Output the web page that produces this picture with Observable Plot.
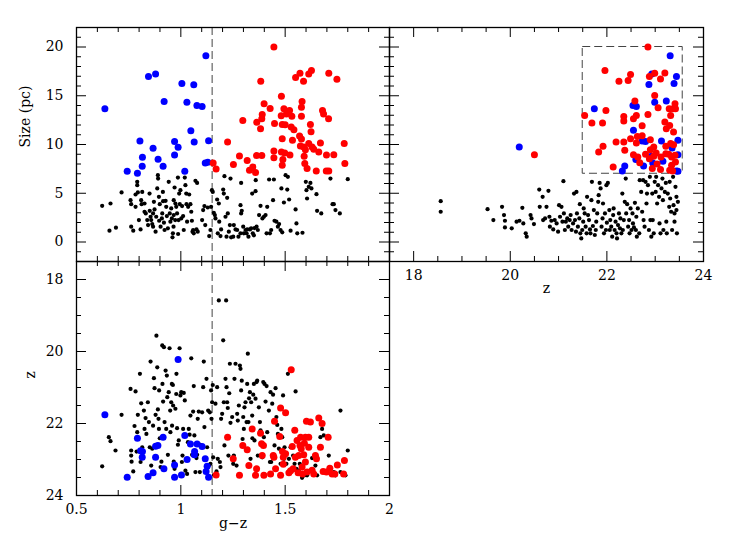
<!DOCTYPE html>
<html><head><meta charset="utf-8">
<script src="https://cdn.jsdelivr.net/npm/d3@7"></script>
<script src="https://cdn.jsdelivr.net/npm/@observablehq/plot@0.6"></script>
<style>
html,body{margin:0;padding:0;background:#fff;}
#fig{position:relative;width:747px;height:558px;overflow:hidden;background:#fff;}
#fig svg{position:absolute;left:0;top:0;background:transparent;font-family:"DejaVu Serif",serif !important;}
#fig svg text{font-family:"DejaVu Serif",serif !important;}
</style></head><body><div id="fig"></div>
<script>
// ---------- data: panel 1 (g-z vs Size) ----------
const sizeColourBlue = [[0.636,13.66],[0.743,7.26],[0.792,7.05],[0.804,10.36],[0.816,8.69],[0.815,7.77],[0.845,16.97],[0.879,17.24],[0.867,9.61],[0.891,8.48],[0.920,14.41],[0.915,7.77],[0.970,10.32],[0.970,8.93],[0.987,9.71],[1.005,16.25],[1.019,7.26],[1.029,14.34],[1.048,11.41],[1.062,16.12],[1.064,10.26],[1.077,14.0],[1.102,13.9],[1.120,19.11],[1.133,10.39],[1.117,8.11],[1.129,8.18]];
const sizeColourRed = [[1.446,20.0],[1.155,8.11],[1.169,7.5],[1.224,10.26],[1.252,7.94],[1.281,8.82],[1.297,12.47],[1.318,8.35],[1.329,7.36],[1.345,7.7],[1.358,7.12],[1.363,8.86],[1.388,8.86],[1.364,12.27],[1.383,16.49],[1.382,11.62],[1.388,12.64],[1.39,13.08],[1.399,14.17],[1.428,13.7],[1.446,9.34],[1.449,12.16],[1.446,8.65],[1.482,14.96],[1.486,10.6],[1.481,12.95],[1.482,9.23],[1.489,8.45],[1.486,7.87],[1.486,12.06],[1.494,13.66],[1.498,9.13],[1.5,12.03],[1.506,13.12],[1.521,13.49],[1.523,8.93],[1.532,12.91],[1.529,11.79],[1.542,11.52],[1.535,10.43],[1.55,16.87],[1.571,17.31],[1.588,16.49],[1.581,14.41],[1.578,13.83],[1.578,12.91],[1.569,10.87],[1.578,10.56],[1.573,9.85],[1.589,9.74],[1.591,8.79],[1.594,8.04],[1.597,9.47],[1.605,7.53],[1.613,17.24],[1.626,17.58],[1.621,12.06],[1.624,11.31],[1.613,10.09],[1.629,9.74],[1.637,9.51],[1.649,7.29],[1.661,9.23],[1.669,10.15],[1.679,13.49],[1.684,13.12],[1.698,8.93],[1.697,7.29],[1.708,12.64],[1.709,17.31],[1.709,7.29],[1.733,8.96],[1.748,16.69],[1.783,10.09],[1.786,8.04]];
const sizeColourBlack = [[0.623,3.71],[0.663,3.95],[0.658,1.16],[0.689,1.47],[0.716,5.08],[0.759,4.29],[0.762,3.88],[0.762,1.57],[0.772,1.16],[0.783,3.61],[0.783,4.87],[0.791,6.17],[0.791,5.83],[0.794,5.08],[0.799,2.25],[0.807,1.29],[0.810,4.29],[0.812,3.88],[0.815,5.14],[0.826,3.95],[0.826,3.10],[0.832,2.93],[0.839,2.25],[0.843,1.74],[0.850,4.97],[0.851,3.20],[0.855,2.59],[0.858,2.25],[0.863,1.84],[0.867,2.93],[0.867,1.57],[0.871,4.12],[0.874,3.34],[0.879,1.06],[0.882,2.59],[0.887,5.49],[0.890,6.85],[0.891,6.51],[0.895,4.63],[0.896,2.18],[0.899,3.88],[0.903,1.57],[0.909,2.42],[0.911,2.93],[0.914,5.14],[0.915,4.19],[0.919,1.98],[0.922,1.23],[0.927,4.22],[0.930,3.61],[0.933,2.66],[0.938,1.40],[0.942,6.17],[0.947,2.93],[0.950,2.08],[0.954,3.44],[0.957,2.42],[0.960,0.48],[0.962,0.89],[0.965,1.57],[0.966,2.76],[0.966,4.29],[0.970,5.59],[0.973,2.25],[0.974,3.95],[0.978,3.61],[0.982,2.93],[0.986,6.61],[0.987,0.82],[0.989,2.25],[0.992,4.97],[0.995,3.88],[0.998,5.32],[1.002,2.42],[1.006,3.68],[1.011,2.66],[1.014,1.23],[1.019,6.61],[1.022,5.83],[1.026,4.97],[1.027,3.88],[1.030,2.08],[1.035,3.61],[1.040,4.87],[1.046,3.88],[1.050,3.10],[1.053,2.18],[1.056,1.06],[1.059,1.23],[1.062,0.89],[1.070,6.27],[1.075,1.29],[1.078,6.06],[1.081,1.06],[1.102,2.25],[1.107,3.27],[1.113,3.68],[1.117,1.74],[1.129,3.54],[1.136,0.61],[1.142,1.23],[1.145,3.61],[1.149,5.32],[1.153,5.14],[1.158,3.00],[1.163,2.76],[1.166,2.42],[1.174,4.36],[1.177,0.89],[1.182,3.95],[1.184,2.08],[1.190,0.61],[1.193,1.29],[1.203,5.38],[1.206,4.97],[1.209,6.75],[1.214,2.59],[1.219,0.55],[1.222,4.53],[1.225,2.93],[1.230,1.06],[1.235,1.74],[1.238,6.51],[1.241,0.48],[1.251,0.55],[1.254,1.74],[1.262,1.29],[1.270,1.23],[1.276,0.55],[1.286,0.89],[1.289,6.06],[1.286,3.78],[1.289,2.93],[1.292,3.20],[1.299,1.57],[1.302,0.89],[1.310,1.23],[1.315,0.89],[1.318,1.29],[1.324,0.55],[1.331,1.29],[1.337,1.40],[1.342,4.97],[1.345,0.89],[1.350,0.68],[1.353,1.43],[1.358,5.21],[1.359,6.34],[1.363,1.57],[1.369,1.23],[1.375,2.76],[1.382,3.71],[1.391,2.42],[1.398,2.59],[1.406,2.76],[1.411,0.89],[1.414,3.61],[1.423,6.41],[1.427,0.89],[1.433,1.23],[1.442,4.29],[1.446,6.41],[1.449,2.18],[1.458,2.08],[1.465,1.57],[1.471,1.84],[1.478,1.23],[1.482,5.49],[1.486,0.99],[1.494,4.05],[1.502,6.85],[1.510,5.38],[1.513,6.68],[1.519,4.36],[1.526,1.16],[1.550,3.34],[1.554,1.91],[1.558,0.89],[1.583,0.95],[1.599,6.17],[1.602,5.32],[1.605,4.46],[1.613,5.66],[1.621,6.06],[1.626,5.49],[1.650,4.91],[1.653,3.20],[1.673,2.93],[1.717,6.51],[1.727,3.88],[1.733,3.88],[1.741,3.27],[1.762,2.93],[1.800,6.44]];

// ---------- data: panel 2 (z vs Size) ----------
const sizeMagBlue = [[20.186,9.74],[21.74,13.66],[22.37,7.8],[22.32,7.29],[22.54,14.0],[22.61,13.9],[22.55,11.45],[22.6,8.45],[22.73,10.36],[22.8,10.32],[22.76,7.8],[22.87,16.15],[22.93,17.24],[22.99,14.34],[22.92,8.79],[22.95,8.11],[23.13,10.36],[23.16,8.28],[23.23,14.45],[23.31,19.11],[23.39,16.25],[23.44,16.97],[23.35,9.64],[23.47,10.43],[23.47,8.96],[23.44,7.29],[23.47,7.26]];
const sizeMagRed = [[22.85,20.0],[20.5,8.96],[21.96,17.58],[22.25,16.49],[22.44,16.56],[22.49,17.17],[21.54,12.98],[21.69,12.2],[21.91,12.2],[21.98,13.49],[21.92,9.81],[21.83,9.23],[22.13,7.7],[22.19,10.26],[22.35,12.88],[22.35,12.4],[22.35,10.26],[22.37,9.4],[22.49,10.6],[22.55,12.64],[22.58,14.45],[22.61,12.98],[22.63,10.83],[22.61,10.15],[22.55,8.96],[22.73,11.92],[22.64,8.72],[22.68,8.14],[22.85,13.08],[22.88,16.97],[22.99,17.31],[22.9,10.49],[22.9,9.47],[22.97,9.74],[23.02,9.13],[22.97,8.79],[23.04,8.01],[22.94,7.53],[23.11,7.43],[22.99,15.03],[23.06,13.76],[23.11,16.73],[23.2,17.34],[23.2,12.3],[23.22,9.81],[23.23,11.62],[23.28,8.99],[23.29,13.66],[23.32,12.98],[23.3,11.96],[23.32,10.09],[23.34,8.72],[23.34,7.87],[23.37,13.66],[23.41,14.17],[23.42,13.66],[23.38,11.28],[23.38,9.98],[23.41,8.89],[23.42,8.21],[23.3,7.36],[23.36,7.29],[23.12,8.72],[23.22,9.06],[22.73,10.9],[22.8,9.0],[22.88,8.55]];
const sizeMagBlack = [[18.56,4.19],[18.56,3.10],[19.53,3.37],[19.65,2.25],[19.83,3.61],[19.87,2.76],[19.89,2.18],[19.89,1.50],[20.03,1.40],[20.13,2.08],[20.19,2.18],[20.25,3.51],[20.27,1.91],[20.32,0.89],[20.34,0.55],[20.42,2.76],[20.44,2.42],[20.49,1.84],[20.60,5.38],[20.61,3.61],[20.67,4.63],[20.68,2.25],[20.72,2.42],[20.79,5.25],[20.75,3.61],[20.81,2.59],[20.82,1.57],[20.85,2.18],[20.89,1.29],[20.92,2.25],[20.96,1.91],[20.99,1.06],[21.01,3.78],[21.03,2.59],[21.06,3.61],[21.08,2.08],[21.10,6.24],[21.11,2.93],[21.13,1.23],[21.15,2.08],[21.18,2.42],[21.20,1.57],[21.23,2.25],[21.25,2.76],[21.27,1.23],[21.30,1.91],[21.32,4.97],[21.34,2.25],[21.36,1.06],[21.37,5.14],[21.38,2.93],[21.40,1.57],[21.43,2.42],[21.44,3.88],[21.45,0.89],[21.47,0.37],[21.49,1.23],[21.51,2.08],[21.52,3.44],[21.54,2.93],[21.56,1.57],[21.58,0.89],[21.59,4.63],[21.61,2.76],[21.63,2.25],[21.65,1.29],[21.66,0.89],[21.68,4.29],[21.69,6.17],[21.71,1.64],[21.73,3.27],[21.75,0.72],[21.77,1.23],[21.78,2.08],[21.80,2.93],[21.82,4.12],[21.83,4.80],[21.85,6.06],[21.87,5.49],[21.89,1.57],[21.91,2.42],[21.92,3.95],[21.94,0.89],[21.96,2.93],[21.98,1.23],[21.99,5.83],[22.00,1.98],[22.02,6.06],[22.05,3.27],[22.06,1.23],[22.07,2.25],[22.09,1.57],[22.11,0.55],[22.13,2.76],[22.14,3.44],[22.16,1.23],[22.18,2.08],[22.20,0.89],[22.21,0.37],[22.23,1.74],[22.25,2.93],[22.27,1.40],[22.28,2.42],[22.30,0.89],[22.32,4.97],[22.33,1.23],[22.35,2.25],[22.37,4.12],[22.39,6.51],[22.40,2.93],[22.42,3.88],[22.44,1.57],[22.46,2.25],[22.47,0.89],[22.49,3.44],[22.51,1.23],[22.53,2.93],[22.54,1.91],[22.56,1.50],[22.58,4.02],[22.60,1.23],[22.61,2.59],[22.62,0.55],[22.64,3.44],[22.67,0.89],[22.68,6.34],[22.71,5.14],[22.73,3.10],[22.75,6.34],[22.76,2.25],[22.78,1.57],[22.80,6.17],[22.82,3.95],[22.83,4.97],[22.85,5.83],[22.87,1.23],[22.89,6.68],[22.90,2.25],[22.92,0.55],[22.94,4.97],[22.95,2.25],[22.97,0.89],[22.99,6.17],[23.01,5.14],[23.02,6.68],[23.04,3.95],[23.06,5.83],[23.08,4.63],[23.09,1.91],[23.11,0.89],[23.13,5.49],[23.15,6.51],[23.16,4.29],[23.17,1.23],[23.20,5.14],[23.22,6.06],[23.23,2.08],[23.24,0.89],[23.26,4.97],[23.29,3.61],[23.30,6.17],[23.31,4.46],[23.33,3.10],[23.35,1.23],[23.37,6.68],[23.38,3.78],[23.40,2.93],[23.42,5.66],[23.44,4.63],[23.45,0.89],[23.47,4.12],[23.44,3.27],[23.40,2.08]];

// ---------- data: panel 3 (g-z vs z) ----------
const magColourBlue = [[0.636,21.76],[0.743,23.49],[0.792,22.41],[0.807,22.76],[0.816,22.78],[0.815,22.94],[0.843,23.47],[0.867,23.37],[0.879,22.63],[0.890,22.61],[0.915,22.38],[0.919,23.26],[0.879,22.94],[0.970,23.15],[0.970,23.49],[0.987,20.22],[1.003,23.43],[1.019,22.33],[1.030,23.0],[1.046,22.57],[1.065,22.87],[1.066,22.78],[1.078,22.57],[1.102,22.64],[1.117,22.98],[1.126,23.19],[1.121,23.33],[1.133,23.49]];
const magColourRed = [[1.169,23.43],[1.224,22.38],[1.251,22.98],[1.281,23.44],[1.297,22.61],[1.318,22.73],[1.326,23.17],[1.342,22.15],[1.358,23.44],[1.363,23.26],[1.382,22.27],[1.387,22.56],[1.396,22.61],[1.39,22.89],[1.398,23.44],[1.43,23.4],[1.443,22.89],[1.449,21.94],[1.446,22.94],[1.454,23.26],[1.478,21.57],[1.474,22.36],[1.478,23.44],[1.487,22.78],[1.491,22.94],[1.491,23.13],[1.502,21.7],[1.502,22.84],[1.518,23.37],[1.526,23.31],[1.529,20.51],[1.534,22.64],[1.538,23.26],[1.546,22.19],[1.549,22.94],[1.557,22.47],[1.565,22.89],[1.571,22.61],[1.574,22.38],[1.577,22.7],[1.581,23.21],[1.583,23.4],[1.589,22.87],[1.592,22.55],[1.597,22.38],[1.597,23.07],[1.602,21.94],[1.605,23.35],[1.613,22.38],[1.621,21.96],[1.629,23.3],[1.637,23.4],[1.645,22.89],[1.65,22.98],[1.661,21.85],[1.669,22.66],[1.677,22.0],[1.682,23.33],[1.698,23.35],[1.706,22.38],[1.714,23.24],[1.725,23.4],[1.738,23.4],[1.75,23.15],[1.784,23.03],[1.78,23.4],[1.613,22.66],[1.562,23.37]];
const magColourBlack = [[0.623,23.19],[0.655,22.38],[0.663,22.49],[0.687,22.75],[0.716,21.76],[0.759,21.04],[0.762,22.75],[0.762,22.89],[0.764,23.06],[0.772,23.33],[0.778,22.07],[0.783,21.11],[0.788,22.78],[0.791,22.24],[0.794,21.76],[0.804,20.62],[0.807,23.07],[0.810,21.44],[0.815,22.66],[0.823,21.64],[0.826,22.15],[0.831,21.85],[0.835,22.29],[0.842,21.41],[0.847,21.96],[0.851,22.66],[0.855,20.28],[0.858,23.17],[0.863,22.70],[0.867,22.06],[0.871,20.74],[0.874,21.02],[0.879,21.76],[0.883,19.56],[0.887,20.44],[0.890,21.61],[0.893,21.87],[0.895,22.15],[0.896,21.08],[0.899,22.41],[0.903,23.21],[0.907,23.06],[0.911,19.83],[0.912,20.90],[0.915,21.39],[0.919,19.88],[0.922,21.96],[0.927,20.53],[0.930,22.15],[0.933,20.67],[0.935,21.27],[0.938,22.87],[0.942,21.13],[0.946,19.91],[0.949,21.64],[0.950,22.24],[0.954,21.41],[0.957,20.90],[0.958,22.06],[0.962,20.93],[0.963,21.50],[0.966,23.06],[0.970,23.26],[0.974,21.59],[0.978,21.18],[0.979,20.62],[0.982,22.13],[0.986,22.59],[0.990,22.47],[0.994,19.91],[0.998,21.22],[1.002,21.13],[1.005,23.07],[1.008,22.89],[1.011,22.15],[1.014,21.15],[1.019,21.36],[1.022,23.31],[1.027,23.00],[1.030,23.40],[1.034,22.52],[1.038,22.15],[1.042,22.31],[1.046,21.78],[1.050,20.19],[1.054,22.87],[1.059,21.67],[1.062,20.96],[1.065,22.33],[1.070,23.35],[1.075,22.96],[1.078,22.87],[1.081,21.87],[1.086,21.67],[1.091,23.35],[1.094,22.59],[1.102,21.69],[1.107,20.99],[1.110,20.28],[1.113,22.10],[1.118,22.98],[1.123,20.76],[1.126,22.66],[1.131,21.64],[1.134,23.17],[1.139,21.69],[1.142,23.12],[1.145,21.08],[1.147,21.87],[1.150,21.41],[1.153,20.93],[1.155,22.94],[1.158,23.43],[1.166,21.45],[1.171,23.33],[1.174,20.99],[1.177,22.98],[1.182,18.58],[1.187,23.07],[1.190,23.21],[1.193,21.87],[1.198,21.73],[1.203,19.69],[1.206,21.41],[1.209,22.61],[1.214,20.76],[1.217,18.58],[1.219,20.99],[1.222,21.41],[1.225,21.57],[1.228,22.89],[1.232,21.16],[1.235,20.34],[1.238,21.98],[1.246,21.82],[1.251,23.12],[1.254,22.89],[1.257,20.76],[1.262,20.34],[1.267,23.17],[1.270,21.73],[1.273,21.92],[1.278,21.50],[1.283,20.39],[1.286,20.48],[1.289,21.08],[1.292,20.81],[1.296,22.43],[1.299,21.82],[1.302,22.15],[1.305,21.55],[1.310,21.41],[1.315,21.96],[1.318,20.90],[1.321,20.06],[1.324,21.96],[1.327,21.30],[1.331,21.13],[1.334,22.98],[1.337,21.41],[1.342,21.78],[1.343,22.41],[1.347,21.20],[1.350,20.90],[1.353,22.47],[1.358,21.31],[1.363,20.85],[1.366,20.81],[1.369,22.89],[1.374,21.55],[1.379,21.96],[1.382,22.19],[1.390,22.94],[1.395,20.85],[1.398,22.38],[1.401,20.90],[1.406,21.39],[1.411,20.96],[1.414,22.24],[1.422,21.64],[1.427,23.07],[1.430,21.13],[1.433,23.07],[1.438,21.45],[1.442,21.20],[1.449,22.61],[1.454,21.02],[1.458,21.82],[1.462,22.04],[1.465,22.29],[1.470,22.70],[1.478,23.12],[1.482,22.15],[1.486,22.38],[1.490,21.22],[1.494,22.98],[1.497,22.66],[1.506,23.12],[1.513,20.62],[1.518,22.98],[1.526,22.66],[1.538,22.89],[1.545,23.12],[1.550,21.11],[1.554,23.26],[1.565,23.31],[1.570,23.12],[1.581,23.51],[1.593,23.44],[1.605,23.44],[1.629,22.96],[1.645,23.17],[1.653,23.44],[1.669,22.38],[1.677,22.15],[1.685,22.33],[1.709,22.89],[1.717,23.26],[1.733,23.35],[1.741,23.44],[1.765,21.64],[1.789,23.44],[1.800,22.75],[1.765,23.35]];

// ---------- ticks & reference lines ----------
const colourMajor = [0.5, 1, 1.5, 2];
const colourMinor = [0.6,0.7,0.8,0.9,1.1,1.2,1.3,1.4,1.6,1.7,1.8,1.9];
const sizeMajor = [0, 5, 10, 15, 20];
const sizeMinor = [-1,1,2,3,4,6,7,8,9,11,12,13,14,16,17,18,19,21];
const magMajor = [18, 20, 22, 24];
const magMinor = [17.5,18.5,19,19.5,20.5,21,21.5,22.5,23,23.5];
const colourCut = [1.15];
const selBoxZ = [21.5, 23.57];
const selBoxSize = [7, 20];

const W = 747, H = 558;
const FONT = "DejaVu Serif";
const BLUE = "#0000ff", RED = "#ff0000";

function tickMarks(fw, fh, xMaj, xMin, yMaj, yMin) {
  const M = 10, m = 5, sw = 1;
  return [
    Plot.tickX(xMaj, {x: d => d, insetTop: fh - M, strokeWidth: sw}),
    Plot.tickX(xMaj, {x: d => d, insetBottom: fh - M, strokeWidth: sw}),
    Plot.tickX(xMin, {x: d => d, insetTop: fh - m, strokeWidth: sw}),
    Plot.tickX(xMin, {x: d => d, insetBottom: fh - m, strokeWidth: sw}),
    Plot.tickY(yMaj, {y: d => d, insetRight: fw - M, strokeWidth: sw}),
    Plot.tickY(yMaj, {y: d => d, insetLeft: fw - M, strokeWidth: sw}),
    Plot.tickY(yMin, {y: d => d, insetRight: fw - m, strokeWidth: sw}),
    Plot.tickY(yMin, {y: d => d, insetLeft: fw - m, strokeWidth: sw})
  ];
}
function dots(data, fill, r) {
  return Plot.dot(data, {x: d => d[0], y: d => d[1], r, fill, stroke: null});
}
const baseStyle = {fontFamily: FONT, fontSize: "14px", background: "transparent", overflow: "visible"};
const fig = document.getElementById("fig");
const RB = 2.1, RC = 3.5;

// Panel 1: top-left  frame x 76..389, y 27..261
fig.append(Plot.plot({
  width: W, height: H, marginLeft: 76, marginRight: W - 389, marginTop: 27, marginBottom: H - 261,
  style: baseStyle,
  x: {domain: [0.5, 2], axis: null},
  y: {domain: [-2, 22], axis: null},
  marks: [
    Plot.ruleX(colourCut, {stroke: "#444", strokeWidth: 1, strokeDasharray: "8,4"}),
    dots(sizeColourBlack, "black", RB),
    dots(sizeColourBlue, BLUE, RC),
    dots(sizeColourRed, RED, RC),
    ...tickMarks(313, 234, colourMajor, colourMinor, sizeMajor, sizeMinor),
    Plot.axisY(sizeMajor, {tickSize: 0, tickPadding: 13, fontSize: 14, label: null}),
    Plot.text(["Size (pc)"], {frameAnchor: "left", dx: -51, dy: 3, rotate: -90, fontSize: 14}),
    Plot.frame({stroke: "black", strokeWidth: 1.3})
  ]
}));

// Panel 2: top-right  frame x 389..703, y 27..261
fig.append(Plot.plot({
  width: W, height: H, marginLeft: 389, marginRight: W - 703, marginTop: 27, marginBottom: H - 261,
  style: baseStyle,
  x: {domain: [17.5, 24], axis: null},
  y: {domain: [-2, 22], axis: null},
  marks: [
    Plot.rect([0], {x1: () => selBoxZ[0], x2: () => selBoxZ[1], y1: () => selBoxSize[0], y2: () => selBoxSize[1],
      fill: "none", stroke: "#444", strokeWidth: 1, strokeDasharray: "8,4"}),
    dots(sizeMagBlack, "black", RB),
    dots(sizeMagBlue, BLUE, RC),
    dots(sizeMagRed, RED, RC),
    ...tickMarks(314, 234, magMajor, magMinor, sizeMajor, sizeMinor),
    Plot.axisX(magMajor, {tickSize: 0, tickPadding: 9, fontSize: 14, label: null}),
    Plot.text(["z"], {frameAnchor: "bottom", dy: 31, fontSize: 14}),
    Plot.frame({stroke: "black", strokeWidth: 1.3})
  ]
}));

// Panel 3: bottom-left  frame x 76..389, y 261..495
fig.append(Plot.plot({
  width: W, height: H, marginLeft: 76, marginRight: W - 389, marginTop: 261, marginBottom: H - 495,
  style: baseStyle,
  x: {domain: [0.5, 2], axis: null},
  y: {domain: [17.5, 24], reverse: true, axis: null},
  marks: [
    Plot.ruleX(colourCut, {stroke: "#444", strokeWidth: 1, strokeDasharray: "8,4"}),
    dots(magColourBlack, "black", RB),
    dots(magColourBlue, BLUE, RC),
    dots(magColourRed, RED, RC),
    ...tickMarks(313, 234, colourMajor, colourMinor, magMajor, magMinor),
    Plot.axisY(magMajor, {tickSize: 0, tickPadding: 13, fontSize: 14, label: null}),
    Plot.axisX(colourMajor, {tickSize: 0, tickPadding: 9, fontSize: 14, label: null, tickFormat: d => String(d)}),
    Plot.text(["z"], {frameAnchor: "left", dx: -46, rotate: -90, fontSize: 14}),
    Plot.text(["g\u2212z"], {frameAnchor: "bottom", dy: 32, fontSize: 14}),
    Plot.frame({stroke: "black", strokeWidth: 1.3})
  ]
}));
</script></body></html>
